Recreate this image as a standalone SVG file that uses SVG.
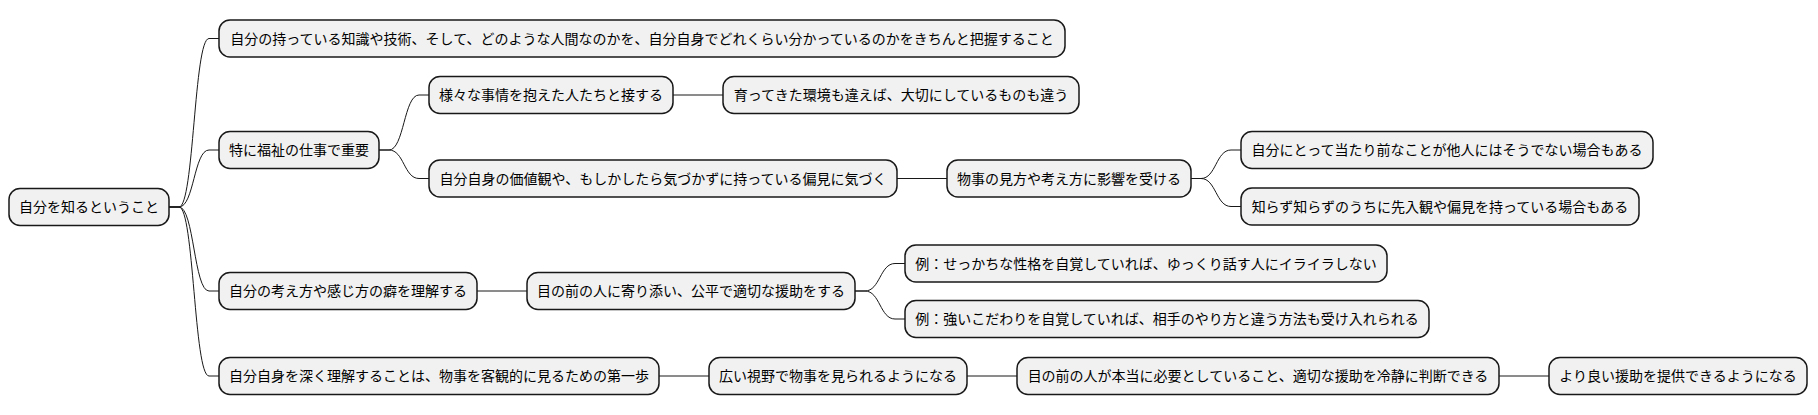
<svg xmlns="http://www.w3.org/2000/svg" width="1818" height="415" viewBox="0 0 1818 415">
<style>
.box{fill:#F1F1F1;stroke:#181818;stroke-width:1.5}
.t{font-family:"Noto Sans CJK JP","Noto Sans",sans-serif;font-size:14px;fill:#000;text-anchor:middle}
.c{fill:none;stroke:#181818;stroke-width:1}
</style>
<rect width="1818" height="415" fill="#FFFFFF"/>
<g id="connectors">
<path class="c" d="M169,207 L179,207 C194,207 194,38.5 209,38.5 L219,38.5"/>
<path class="c" d="M169,207 L179,207 C194,207 194,150 209,150 L219,150"/>
<path class="c" d="M169,207 L179,207 C194,207 194,291 209,291 L219,291"/>
<path class="c" d="M169,207 L179,207 C194,207 194,376 209,376 L219,376"/>
<path class="c" d="M379,150 L389,150 C404,150 404,95 419,95 L429,95"/>
<path class="c" d="M379,150 L389,150 C404,150 404,178.5 419,178.5 L429,178.5"/>
<path class="c" d="M673,95 L723,95"/>
<path class="c" d="M897,178.5 L947,178.5"/>
<path class="c" d="M1191,178.5 L1201,178.5 C1216,178.5 1216,150 1231,150 L1241,150"/>
<path class="c" d="M1191,178.5 L1201,178.5 C1216,178.5 1216,206.5 1231,206.5 L1241,206.5"/>
<path class="c" d="M477,291 L527,291"/>
<path class="c" d="M855,291 L865,291 C880,291 880,263.5 895,263.5 L905,263.5"/>
<path class="c" d="M855,291 L865,291 C880,291 880,319 895,319 L905,319"/>
<path class="c" d="M659,376 L709,376"/>
<path class="c" d="M967,376 L1017,376"/>
<path class="c" d="M1499,376 L1549,376"/>
</g>
<g id="root"><rect class="box" x="9" y="188.5" width="160" height="37" rx="11"/><text class="t" x="89" y="212">自分を知るということ</text></g>
<g id="n1"><rect class="box" x="219" y="20" width="846" height="37" rx="11"/><text class="t" x="642" y="43.5">自分の持っている知識や技術、そして、どのような人間なのかを、自分自身でどれくらい分かっているのかをきちんと把握すること</text></g>
<g id="n2"><rect class="box" x="219" y="131.5" width="160" height="37" rx="11"/><text class="t" x="299" y="155">特に福祉の仕事で重要</text></g>
<g id="n3"><rect class="box" x="219" y="272.5" width="258" height="37" rx="11"/><text class="t" x="348" y="296">自分の考え方や感じ方の癖を理解する</text></g>
<g id="n4"><rect class="box" x="219" y="357.5" width="440" height="37" rx="11"/><text class="t" x="439" y="381">自分自身を深く理解することは、物事を客観的に見るための第一歩</text></g>
<g id="n5"><rect class="box" x="429" y="76.5" width="244" height="37" rx="11"/><text class="t" x="551" y="100">様々な事情を抱えた人たちと接する</text></g>
<g id="n6"><rect class="box" x="429" y="160" width="468" height="37" rx="11"/><text class="t" x="663" y="183.5">自分自身の価値観や、もしかしたら気づかずに持っている偏見に気づく</text></g>
<g id="n7"><rect class="box" x="723" y="76.5" width="356" height="37" rx="11"/><text class="t" x="901" y="100">育ってきた環境も違えば、大切にしているものも違う</text></g>
<g id="n8"><rect class="box" x="947" y="160" width="244" height="37" rx="11"/><text class="t" x="1069" y="183.5">物事の見方や考え方に影響を受ける</text></g>
<g id="n9"><rect class="box" x="1241" y="131.5" width="412" height="37" rx="11"/><text class="t" x="1447" y="155">自分にとって当たり前なことが他人にはそうでない場合もある</text></g>
<g id="n10"><rect class="box" x="1241" y="188" width="398" height="37" rx="11"/><text class="t" x="1440" y="211.5">知らず知らずのうちに先入観や偏見を持っている場合もある</text></g>
<g id="n11"><rect class="box" x="527" y="272.5" width="328" height="37" rx="11"/><text class="t" x="691" y="296">目の前の人に寄り添い、公平で適切な援助をする</text></g>
<g id="n12"><rect class="box" x="905" y="245" width="482" height="37" rx="11"/><text class="t" x="1146" y="268.5">例：せっかちな性格を自覚していれば、ゆっくり話す人にイライラしない</text></g>
<g id="n13"><rect class="box" x="905" y="300.5" width="524" height="37" rx="11"/><text class="t" x="1167" y="324">例：強いこだわりを自覚していれば、相手のやり方と違う方法も受け入れられる</text></g>
<g id="n14"><rect class="box" x="709" y="357.5" width="258" height="37" rx="11"/><text class="t" x="838" y="381">広い視野で物事を見られるようになる</text></g>
<g id="n15"><rect class="box" x="1017" y="357.5" width="482" height="37" rx="11"/><text class="t" x="1258" y="381">目の前の人が本当に必要としていること、適切な援助を冷静に判断できる</text></g>
<g id="n16"><rect class="box" x="1549" y="357.5" width="258" height="37" rx="11"/><text class="t" x="1678" y="381">より良い援助を提供できるようになる</text></g>
</svg>
